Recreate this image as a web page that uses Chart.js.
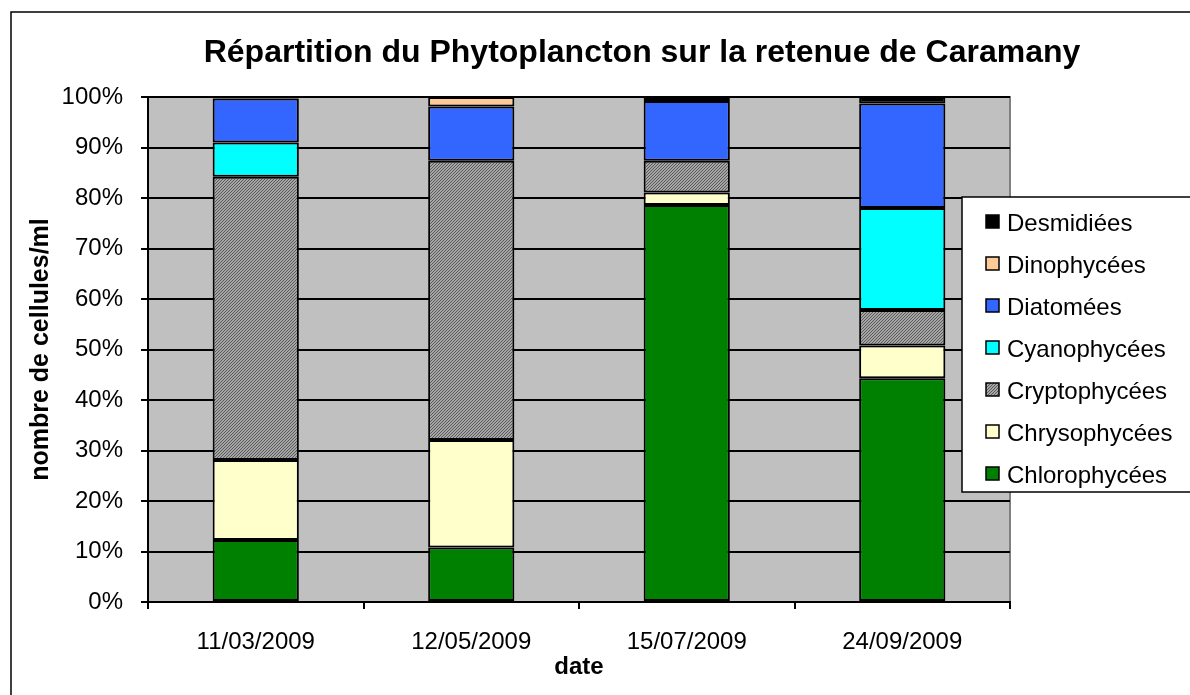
<!DOCTYPE html>
<html>
<head>
<meta charset="utf-8">
<script src="https://cdn.jsdelivr.net/npm/chart.js@4"></script>
<style>
  html, body { margin: 0; padding: 0; background: #fff; }
  #wrap { width: 1190px; height: 695px; }
</style>
</head>
<body>
<div id="wrap"><canvas id="myChart" width="1190" height="695"></canvas></div>
<script>
const dates = ['11/03/2009', '12/05/2009', '15/07/2009', '24/09/2009'];
const yTicks = [0, 10, 20, 30, 40, 50, 60, 70, 80, 90, 100];

// % of cells per group, bottom to top of the stack
const chlorophycees = [12.3, 10.8, 78.6, 44.3];
const chrysophycees = [15.8, 21.3, 2.5, 6.5];
const cryptophycees = [56.1, 55.3, 6.3, 7.0];
const cyanophycees = [6.8, 0, 0, 20.2];
const diatomees = [8.7, 10.7, 11.8, 20.7];
const dinophycees = [0, 1.9, 0, 0];
const desmidiees = [0.3, 0, 0.8, 1.3];

const FONT = "'Liberation Sans', Arial, sans-serif";

// hatched fill for Cryptophycées
function hatch() {
  const c = document.createElement('canvas');
  c.width = 3; c.height = 3;
  const g = c.getContext('2d');
  g.fillStyle = '#a6a6a6';
  g.fillRect(0, 0, 3, 3);
  g.fillStyle = '#595959';
  for (let i = 0; i < 3; i++) g.fillRect(i, 2 - i, 1, 1);
  return g.createPattern(c, 'repeat');
}
const cryptoFill = hatch();

const ctx = document.getElementById('myChart');

// zero values -> null so no empty outlined segment is drawn
const datasets = [
  { label: 'Chlorophycées', data: chlorophycees, backgroundColor: '#008000' },
  { label: 'Chrysophycées', data: chrysophycees, backgroundColor: '#FFFFCC' },
  { label: 'Cryptophycées', data: cryptophycees, backgroundColor: cryptoFill },
  { label: 'Cyanophycées', data: cyanophycees, backgroundColor: '#00FFFF' },
  { label: 'Diatomées', data: diatomees, backgroundColor: '#3366FF' },
  { label: 'Dinophycées', data: dinophycees, backgroundColor: '#FFCC99' },
  { label: 'Desmidiées', data: desmidiees, backgroundColor: '#000000' }
].map(d => Object.assign(d, {
  data: d.data.map(v => v || null),
  borderColor: '#000',
  borderWidth: 2,
  borderSkipped: false,
  categoryPercentage: 0.4,
  barPercentage: 1
}));

// grey plot background
const plotBg = {
  id: 'plotBg',
  beforeDraw(chart) {
    const { ctx, chartArea: a } = chart;
    ctx.save();
    ctx.fillStyle = '#C0C0C0';
    ctx.fillRect(a.left, a.top, a.right - a.left, a.bottom - a.top);
    ctx.strokeStyle = '#808080';
    ctx.lineWidth = 2;
    ctx.beginPath();
    ctx.moveTo(a.left, a.top);
    ctx.lineTo(a.right, a.top);
    ctx.lineTo(a.right, a.bottom);
    ctx.stroke();
    ctx.restore();
  }
};

// title, legend box and outer frame
const extras = {
  id: 'extras',
  afterDraw(chart) {
    const { ctx } = chart;
    ctx.save();
    ctx.strokeStyle = '#000';
    ctx.lineWidth = 1.5;
    ctx.beginPath();
    ctx.moveTo(11, 700);
    ctx.lineTo(11, 12);
    ctx.lineTo(1200, 12);
    ctx.stroke();

    ctx.fillStyle = '#000';
    ctx.font = 'bold 32px ' + FONT;
    ctx.textAlign = 'center';
    ctx.textBaseline = 'middle';
    ctx.fillText('Répartition du Phytoplancton sur la retenue de Caramany', 642, 53);

    // legend
    ctx.fillStyle = '#fff';
    ctx.fillRect(962, 197, 240, 295);
    ctx.lineWidth = 1.5;
    ctx.strokeRect(962, 197, 240, 295);
    ctx.font = '24px ' + FONT;
    ctx.textAlign = 'left';
    const items = chart.data.datasets.slice().reverse();
    items.forEach((ds, i) => {
      const y = 223 + i * 42;
      ctx.fillStyle = ds.backgroundColor;
      ctx.fillRect(986, y - 8, 13, 13);
      ctx.lineWidth = 1.5;
      ctx.strokeRect(986, y - 8, 13, 13);
      ctx.fillStyle = '#000';
      ctx.fillText(ds.label, 1007, y + 1);
    });
    ctx.restore();
  }
};

new Chart(ctx, {
  type: 'bar',
  data: { labels: dates, datasets: datasets },
  plugins: [plotBg, extras],
  options: {
    responsive: false,
    animation: false,
    layout: { padding: { top: 97, right: 180, left: 0, bottom: 0 } },
    plugins: {
      legend: { display: false },
      title: { display: false },
      tooltip: { enabled: false }
    },
    scales: {
      x: {
        stacked: true,
        afterFit: s => { s.height = 93; },
        grid: { drawOnChartArea: false, drawTicks: true, tickLength: 7, color: '#000', lineWidth: 2, offset: true },
        border: { color: '#000', width: 2 },
        ticks: { color: '#000', font: { family: FONT, size: 24 }, padding: 19, maxRotation: 0 },
        title: { display: true, text: 'date', color: '#000', font: { family: FONT, size: 24, weight: 'bold' }, padding: { top: 0, bottom: 13 } }
      },
      y: {
        stacked: true,
        min: 0,
        max: 100,
        afterFit: s => { s.width = 148; },
        afterBuildTicks: s => { s.ticks = yTicks.map(v => ({ value: v })); },
        grid: { color: '#000', lineWidth: 2, tickLength: 7 },
        border: { color: '#000', width: 2 },
        ticks: { color: '#000', font: { family: FONT, size: 24 }, padding: 18, callback: v => v + '%' },
        title: { display: true, text: 'nombre de cellules/ml', color: '#000', font: { family: FONT, size: 25, weight: 'bold' }, padding: { top: 26, bottom: 0 } }
      }
    }
  }
});
</script>
</body>
</html>
